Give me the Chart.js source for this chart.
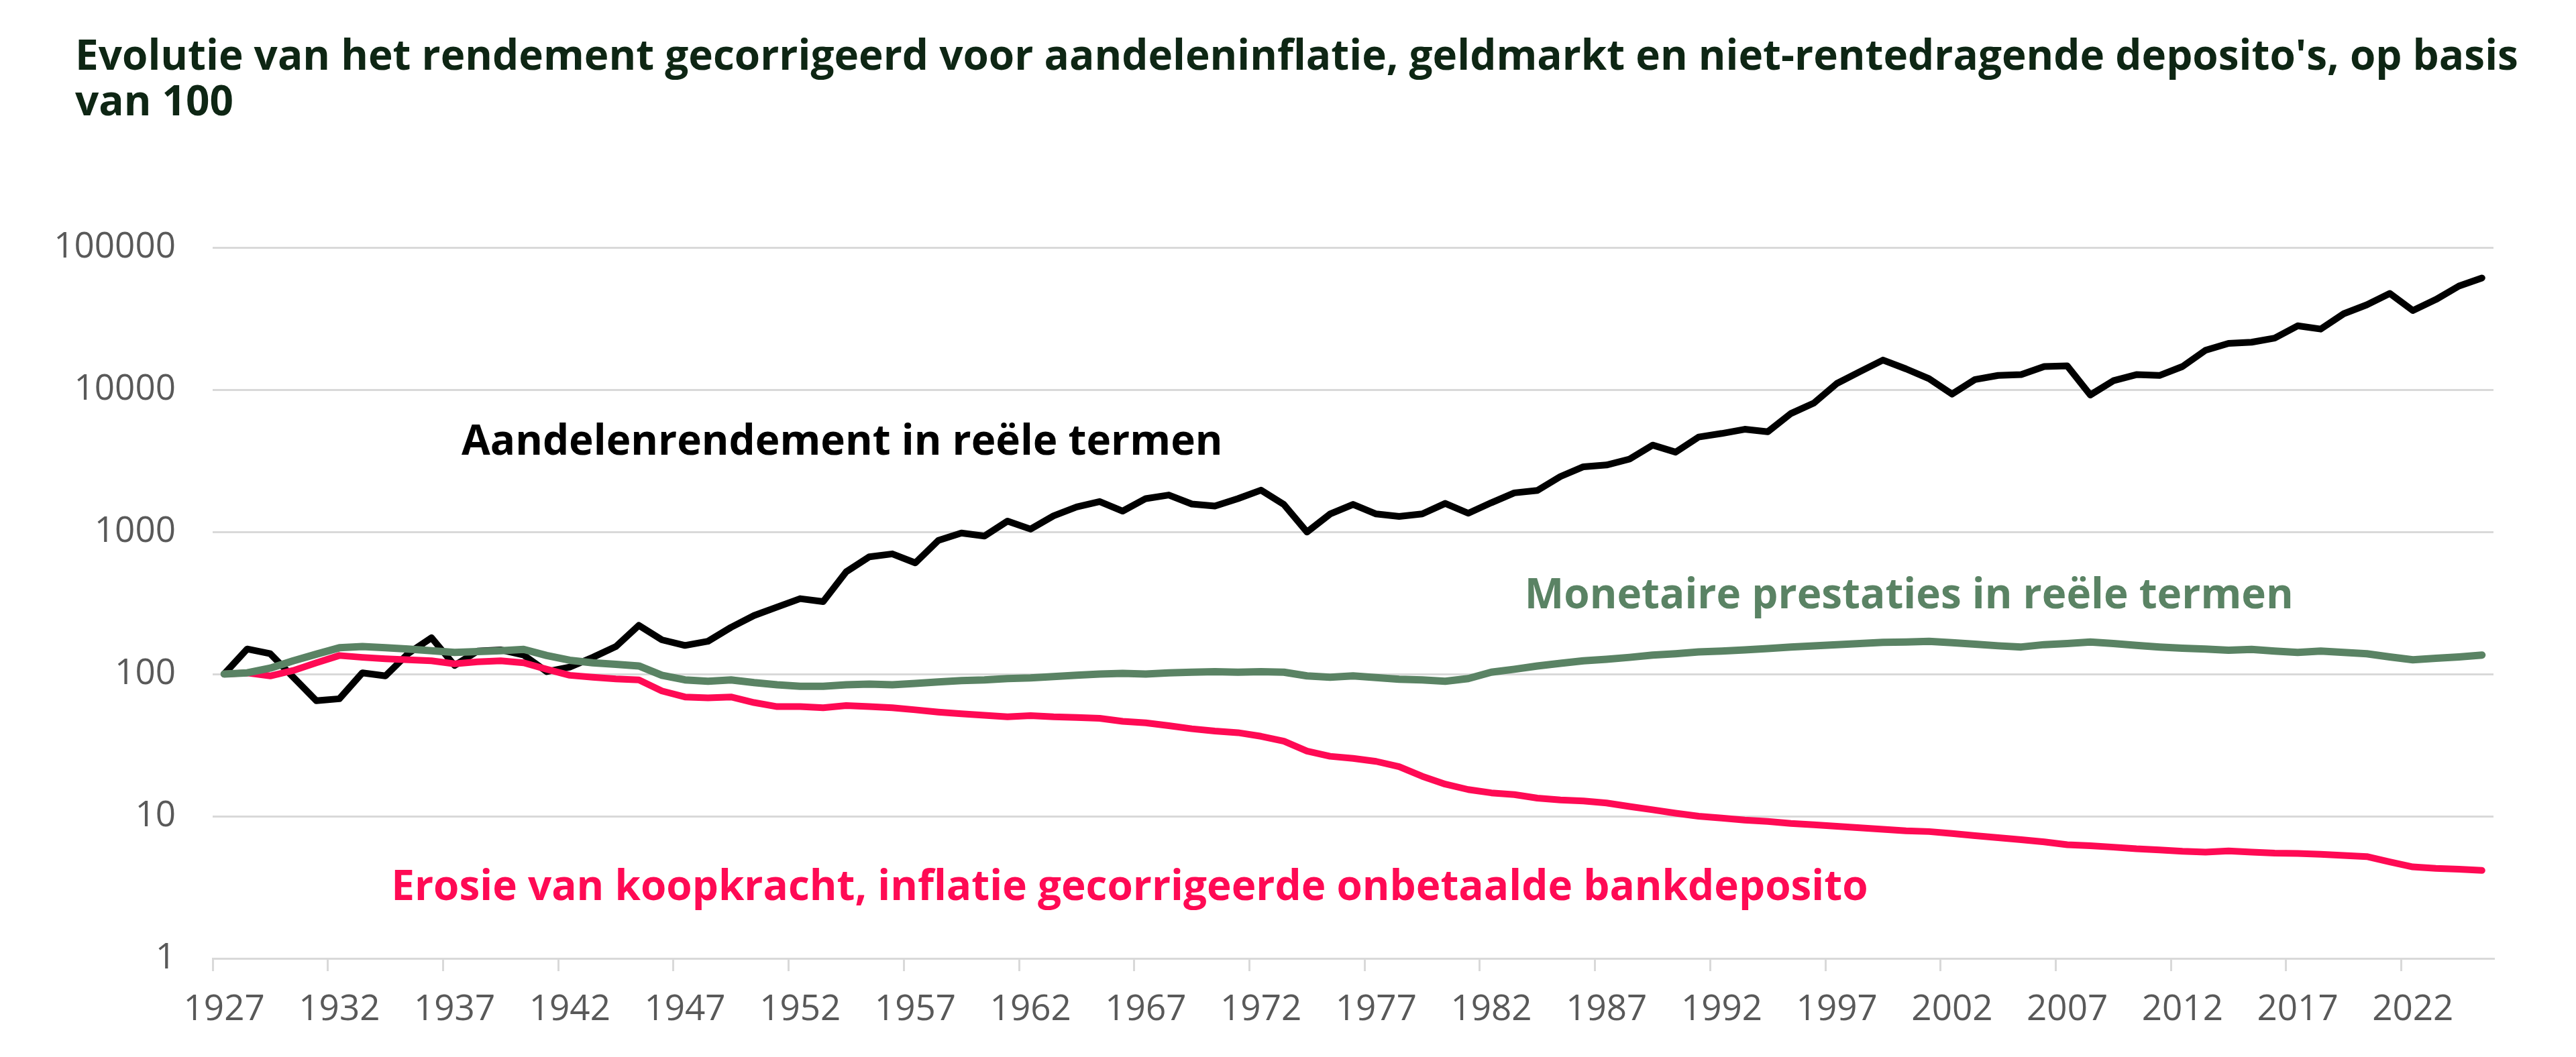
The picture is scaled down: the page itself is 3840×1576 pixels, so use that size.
<!DOCTYPE html>
<html lang="nl">
<head>
<meta charset="utf-8">
<title>Rendement op basis van 100</title>
<script src="https://cdn.jsdelivr.net/npm/chart.js@4.4.1/dist/chart.umd.min.js"></script>
<style>
    html, body { margin: 0; padding: 0; background: #ffffff; }
    #wrap { width: 3840px; height: 1576px; }
</style>
</head>
<body>
<div id="wrap"><canvas id="rendChart" width="3840" height="1576"></canvas></div>
<script>
// ============================================
// DATA
// ============================================

const years = [
    '1927','1928','1929','1930','1931','1932','1933','1934','1935','1936',
    '1937','1938','1939','1940','1941','1942','1943','1944','1945','1946',
    '1947','1948','1949','1950','1951','1952','1953','1954','1955','1956',
    '1957','1958','1959','1960','1961','1962','1963','1964','1965','1966',
    '1967','1968','1969','1970','1971','1972','1973','1974','1975','1976',
    '1977','1978','1979','1980','1981','1982','1983','1984','1985','1986',
    '1987','1988','1989','1990','1991','1992','1993','1994','1995','1996',
    '1997','1998','1999','2000','2001','2002','2003','2004','2005','2006',
    '2007','2008','2009','2010','2011','2012','2013','2014','2015','2016',
    '2017','2018','2019','2020','2021','2022','2023','2024','2025'
];

// Aandelenrendement in reële termen
const aandelen = [
    100, 150, 139, 95, 65, 67, 102, 97, 140, 180,
    115, 145, 148, 136, 104, 112, 131, 156, 220, 174,
    159, 170, 213, 258, 296, 339, 323, 524, 667, 700,
    605, 871, 982, 935, 1190, 1046, 1295, 1497, 1634, 1400,
    1713, 1816, 1570, 1518, 1713, 1964, 1555, 997, 1334, 1560,
    1337, 1284, 1337, 1585, 1352, 1603, 1880, 1955, 2450, 2870,
    2953, 3250, 4075, 3637, 4645, 4920, 5265, 5060, 6790, 8050,
    11050, 13390, 16150, 14000, 11940, 9310, 11790, 12590, 12760, 14550,
    14700, 9180, 11560, 12760, 12590, 14550, 18930, 21170, 21570, 23060,
    28120, 26680, 34200, 39520, 47520, 36060, 43060, 53540, 61040
];

// Monetaire prestaties in reële termen
const monetair = [
    100, 102, 110, 124, 138, 153, 156, 153, 150, 146,
    142, 144, 146, 149, 135, 125, 120, 117, 114, 98,
    91, 89, 91, 87, 84, 82, 82, 84, 85, 84,
    86, 88, 90, 91, 93, 94, 96, 98, 100, 101,
    100, 102, 103, 104, 103, 104, 103, 97, 95, 97,
    94.5, 92, 91, 89, 93, 103, 108, 114, 119, 124,
    127, 131, 136, 139, 143, 145, 148, 151, 155, 158,
    161, 164, 167, 168, 170, 166, 162, 158, 155, 161,
    164, 168, 164, 159, 155, 152, 150, 147, 149, 145,
    142, 145, 142, 139, 132, 126, 129, 132, 136
];

// Erosie van koopkracht, onbetaalde bankdeposito
const deposito = [
    100, 102, 97, 106, 120, 135, 131, 128, 126, 124,
    118, 122, 124, 120, 108, 98, 95, 92.5, 91, 76,
    69, 68, 69, 63, 59, 59, 58, 60, 59, 58,
    56, 54, 52.5, 51.3, 50, 51, 50, 49.5, 48.8, 46.5,
    45.4, 43.3, 41.2, 39.7, 38.7, 36.5, 33.7, 28.7, 26.4, 25.5,
    24.3, 22.3, 19.1, 16.8, 15.4, 14.6, 14.2, 13.4, 13.0, 12.8,
    12.4, 11.7, 11.1, 10.5, 10.0, 9.7, 9.4, 9.2, 8.9, 8.7,
    8.5, 8.3, 8.1, 7.9, 7.8, 7.56, 7.3, 7.07, 6.83, 6.6,
    6.3, 6.2, 6.06, 5.9, 5.8, 5.67, 5.6, 5.7, 5.6, 5.5,
    5.47, 5.4, 5.3, 5.2, 4.77, 4.4, 4.3, 4.24, 4.16
];

const tickYears = ['1927','1932','1937','1942','1947','1952','1957','1962','1967','1972',
                   '1977','1982','1987','1992','1997','2002','2007','2012','2017','2022'];
const yTicks = [1, 10, 100, 1000, 10000, 100000];

const titleLines = [
    "Evolutie van het rendement gecorrigeerd voor aandeleninflatie, geldmarkt en niet-rentedragende deposito's, op basis",
    'van 100'
];

// tekstlabels bij de lijnen: jaar (links van tekst) en waarde op de basislijn
const labelTexts  = ['Aandelenrendement in reële termen', 'Monetaire prestaties in reële termen', 'Erosie van koopkracht, inflatie gecorrigeerde onbetaalde bankdeposito'];
const labelYears  = [1937.3, 1983.45, 1934.25];
const labelValues = [3500, 290, 2.57];

// ============================================
// STIJL
// ============================================

const COL_BLACK = '#000000';
const COL_GREEN = '#5a8364';
const COL_RED = '#ff0a54';
const COL_GRID = '#d9d9d9';
const COL_TICK = '#595959';
const COL_TITLE = '#0e2614';
const labelColors = [COL_BLACK, COL_GREEN, COL_RED];
const FONT = '"Open Sans", "Noto Sans", sans-serif';

// titel + tekstlabels tekenen
const textPlugin = {
    id: 'textPlugin',
    afterDatasetsDraw(chart) {
        const ctx = chart.ctx;
        const xs = chart.scales.x;
        const ys = chart.scales.y;
        ctx.save();
        ctx.textAlign = 'left';
        ctx.textBaseline = 'alphabetic';

        ctx.fillStyle = COL_TITLE;
        ctx.font = 'bold 62px ' + FONT;
        ctx.fillText(titleLines[0], 112, 104);
        ctx.fillText(titleLines[1], 112, 172);

        ctx.font = 'bold 62px ' + FONT;
        labelTexts.forEach((txt, i) => {
            const px = xs.getPixelForValue(labelYears[i] - 1927);
            const py = ys.getPixelForValue(labelValues[i]);
            ctx.fillStyle = labelColors[i];
            ctx.fillText(txt, px, py);
        });
        ctx.restore();
    }
};

const ctx = document.getElementById('rendChart').getContext('2d');

const lineStyle = (color, width) => ({
    borderColor: color,
    backgroundColor: color,
    borderWidth: width,
    pointRadius: 0,
    pointHoverRadius: 0,
    tension: 0,
    fill: false,
    borderJoinStyle: 'round',
    borderCapStyle: 'round'
});

new Chart(ctx, {
    type: 'line',
    data: {
        labels: years,
        datasets: [
            Object.assign({ label: 'Monetaire prestaties', data: monetair, order: 0 }, lineStyle(COL_GREEN, 11)),
            Object.assign({ label: 'Bankdeposito', data: deposito, order: 1 }, lineStyle(COL_RED, 10)),
            Object.assign({ label: 'Aandelenrendement', data: aandelen, order: 2 }, lineStyle(COL_BLACK, 10))
        ]
    },
    options: {
        responsive: false,
        devicePixelRatio: 1,
        animation: false,
        events: [],
        layout: { padding: { top: 369, right: 123, bottom: 0, left: 0 } },
        plugins: {
            legend: { display: false },
            title: { display: false },
            tooltip: { enabled: false }
        },
        scales: {
            x: {
                type: 'category',
                offset: true,
                afterFit(scale) { scale.height = 147; },
                grid: {
                    offset: true,
                    drawOnChartArea: false,
                    drawTicks: true,
                    tickLength: 19,
                    lineWidth: 3,
                    color: c => (c.tick && tickYears.includes(years[c.tick.value])) ? COL_GRID : 'rgba(0,0,0,0)'
                },
                border: { display: true, color: COL_GRID, width: 3 },
                ticks: {
                    autoSkip: false,
                    maxRotation: 0,
                    minRotation: 0,
                    padding: 26,
                    color: COL_TICK,
                    font: { family: FONT, size: 53 },
                    callback(value) {
                        const lab = years[value];
                        return tickYears.includes(lab) ? lab : '';
                    }
                }
            },
            y: {
                type: 'logarithmic',
                min: 1,
                max: 100000,
                afterFit(scale) { scale.width = 317; },
                afterBuildTicks(scale) {
                    scale.ticks = yTicks.map(v => ({ value: v }));
                },
                grid: {
                    color: COL_GRID,
                    lineWidth: 3,
                    drawTicks: false
                },
                border: { display: false },
                ticks: {
                    padding: 55,
                    color: COL_TICK,
                    font: { family: FONT, size: 53 },
                    callback: v => String(v)
                }
            }
        }
    },
    plugins: [textPlugin]
});
</script>
</body>
</html>
